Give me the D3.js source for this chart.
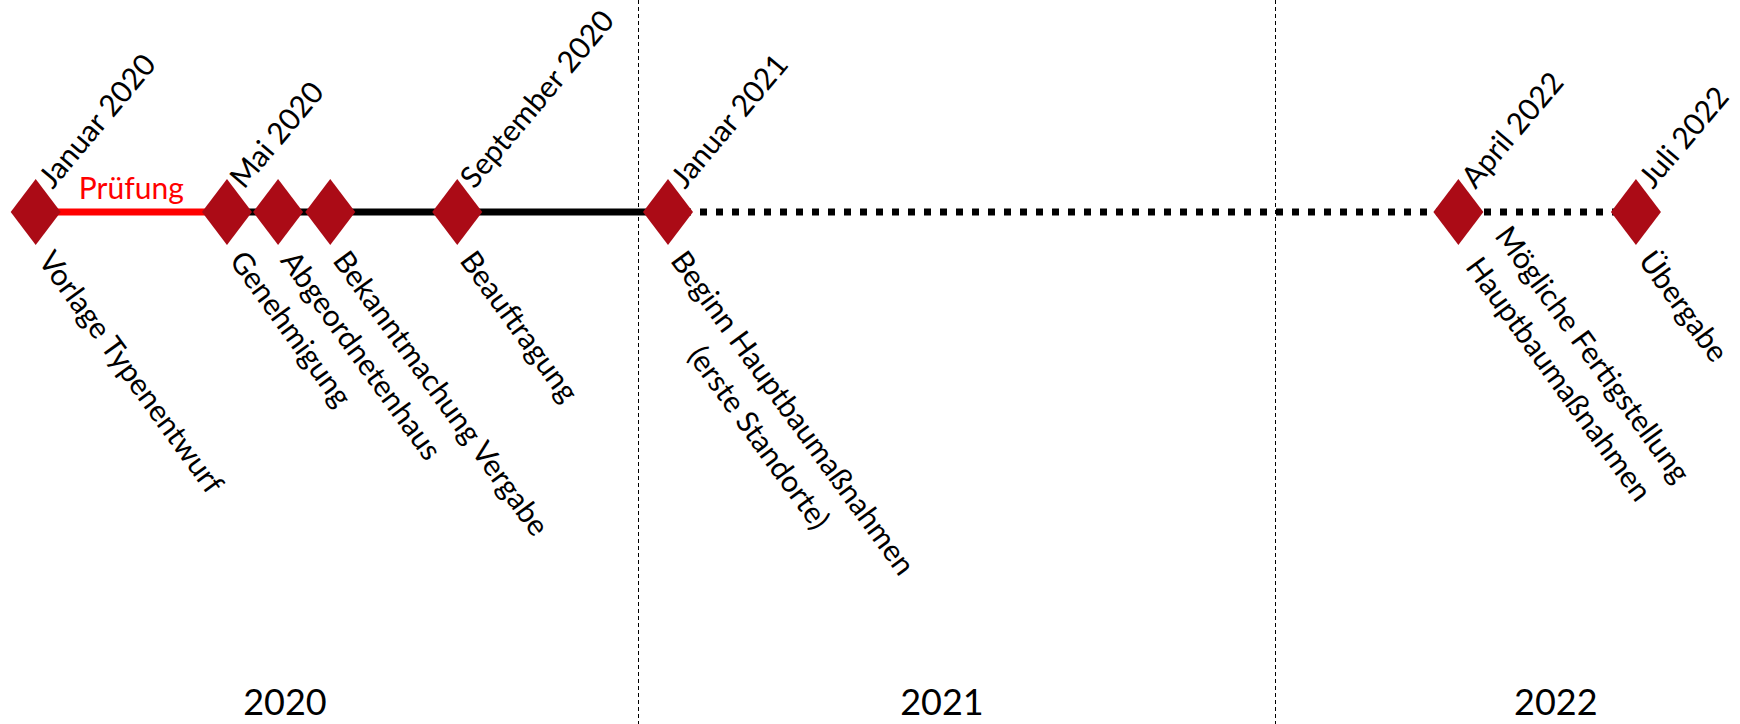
<!DOCTYPE html>
<html lang="de">
<head>
<meta charset="utf-8">
<title>Zeitplan</title>
<script src="https://cdn.jsdelivr.net/npm/d3@7"></script>
<style>
  html, body { margin: 0; padding: 0; background: #fff; }
  svg { display: block; font-family: Lato, 'Open Sans', sans-serif; }
</style>
</head>
<body>
<div id="chart"></div>
<script>
'use strict';

// months since January 2020
const eventMonths = [0, 3.63, 4.6, 5.59, 8, 12, 27, 30.37];
const dateLabels = ['Januar 2020', 'Mai 2020', '', '', 'September 2020', 'Januar 2021', 'April 2022', 'Juli 2022'];
const eventLabels = [
  'Vorlage Typenentwurf',
  'Genehmigung',
  'Abgeordnetenhaus',
  'Bekanntmachung Vergabe',
  'Beauftragung',
  'Beginn Hauptbaumaßnahmen\n(erste Standorte)',
  'Mögliche Fertigstellung\nHauptbaumaßnahmen',
  'Übergabe'
];
const phaseStart = [0, 3.63, 12];
const phaseEnd = [3.63, 12, 30.37];
const phaseKind = ['pruefung', 'fest', 'geplant'];
const phaseLabels = ['Prüfung', '', ''];
const yearLabels = ['2020', '2021', '2022'];
const yearLabelMonths = [4.73, 17.2, 28.85];
const yearBreakMonths = [11.43, 23.52];

const width = 1740;
const height = 724;
const lineY = 212;
const labelSize = 30;
const lineHeight = 42;
// labels whose last line sits next to the marker instead of the first one
const bottomAnchored = new Set([6]);

const phaseStyle = {
  pruefung: { stroke: '#ff0000', dash: null },
  fest: { stroke: '#000', dash: null },
  geplant: { stroke: '#000', dash: '7 9' }
};

const svg = d3.select('#chart').append('svg')
  .attr('width', width)
  .attr('height', height);

svg.append('rect').attr('width', width).attr('height', height).attr('fill', '#fff');

const x = d3.scaleLinear().domain([0, 12]).range([35.7, 668]);

// year separators
svg.append('g').selectAll('line')
  .data(yearBreakMonths)
  .join('line')
  .attr('x1', d => Math.round(x(d)) + 0.5).attr('x2', d => Math.round(x(d)) + 0.5)
  .attr('y1', 0).attr('y2', height)
  .attr('stroke', '#000')
  .attr('stroke-width', 1)
  .attr('stroke-dasharray', '4 3');

svg.append('g').selectAll('text')
  .data(yearLabels)
  .join('text')
  .attr('x', (d, i) => x(yearLabelMonths[i]))
  .attr('y', 715)
  .attr('text-anchor', 'middle')
  .attr('font-size', 36)
  .attr('fill', '#000')
  .text(d => d);

// phases
const phases = phaseKind.map((k, i) => ({ kind: k, from: phaseStart[i], to: phaseEnd[i], label: phaseLabels[i] }));

svg.append('g').selectAll('line')
  .data(phases)
  .join('line')
  .attr('x1', d => x(d.from)).attr('x2', d => x(d.to))
  .attr('y1', lineY).attr('y2', lineY)
  .attr('stroke', d => phaseStyle[d.kind].stroke)
  .attr('stroke-width', 7)
  .attr('stroke-dasharray', d => phaseStyle[d.kind].dash);

svg.append('g').selectAll('text')
  .data(phases.filter(d => d.label))
  .join('text')
  .attr('x', d => x((d.from + d.to) / 2))
  .attr('y', lineY - 13)
  .attr('text-anchor', 'middle')
  .attr('font-size', labelSize)
  .attr('fill', d => phaseStyle[d.kind].stroke)
  .text(d => d.label);

// milestones
const events = eventMonths.map((m, i) => ({ month: m, date: dateLabels[i], label: eventLabels[i], idx: i }));

function diamond(w, h) {
  const p = d3.path();
  p.moveTo(0, -h);
  p.lineTo(w, 0);
  p.lineTo(0, h);
  p.lineTo(-w, 0);
  p.closePath();
  return p.toString();
}

svg.append('g').selectAll('path')
  .data(events)
  .join('path')
  .attr('transform', d => `translate(${x(d.month)},${lineY})`)
  .attr('d', diamond(25, 33))
  .attr('fill', '#ab0b16');

svg.append('g').selectAll('text')
  .data(events.filter(d => d.date))
  .join('text')
  .attr('transform', d => `translate(${x(d.month) + 17},${lineY - 22}) rotate(-50)`)
  .attr('font-size', labelSize)
  .attr('fill', '#000')
  .text(d => d.date);

const below = svg.append('g').selectAll('g')
  .data(events)
  .join('g')
  .attr('transform', d => `translate(${x(d.month) + 19},${lineY + 36}) rotate(54)`);

below.each(function(d) {
  const g = d3.select(this);
  const lines = d.label.split('\n');
  const shift = bottomAnchored.has(d.idx) ? lines.length - 1 : 0;
  const texts = g.selectAll('text')
    .data(lines)
    .join('text')
    .attr('font-size', labelSize)
    .attr('fill', '#000')
    .attr('y', (l, i) => labelSize * 0.72 + (i - shift) * lineHeight)
    .text(l => l);
  const widths = [];
  texts.each(function() { widths.push(this.getComputedTextLength()); });
  const maxW = d3.max(widths);
  texts.attr('x', (l, i) => (maxW - widths[i]) / 2);
});
</script>
</body>
</html>
